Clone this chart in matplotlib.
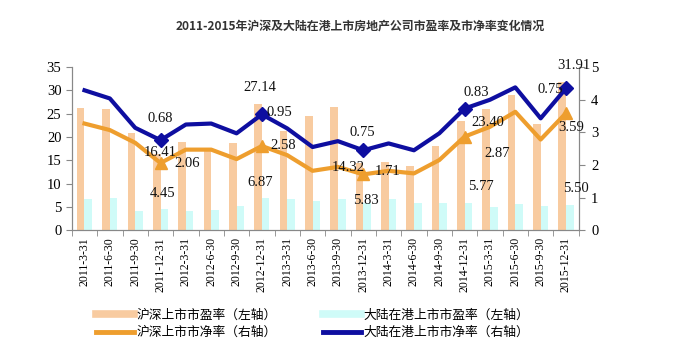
import numpy as np
import matplotlib.pyplot as plt
from matplotlib.lines import Line2D

plt.rcParams['font.family'] = ['Noto Sans CJK SC', 'DejaVu Sans']

# --- Dados ---
quarters = ["2011-3-31", "2011-6-30", "2011-9-30", "2011-12-31",
            "2012-3-31", "2012-6-30", "2012-9-30", "2012-12-31",
            "2013-3-31", "2013-6-30", "2013-9-30", "2013-12-31",
            "2014-3-31", "2014-6-30", "2014-9-30", "2014-12-31",
            "2015-3-31", "2015-6-30", "2015-9-30", "2015-12-31"]
pe_sh = [26.2, 26.0, 20.8, 16.41, 18.9, 17.0, 18.7, 27.14,
         21.2, 24.5, 26.4, 14.32, 14.6, 13.7, 18.0, 23.40,
         26.1, 29.1, 22.7, 31.91]
pe_hk = [6.6, 6.8, 4.2, 4.45, 4.1, 4.3, 5.2, 6.87,
         6.7, 6.2, 6.6, 5.83, 6.6, 5.9, 5.8, 5.77,
         5.0, 5.6, 5.1, 5.50]
pb_sh = [3.27, 3.07, 2.68, 2.06, 2.47, 2.47, 2.18, 2.58,
         2.30, 1.82, 1.94, 1.71, 1.82, 1.74, 2.15, 2.87,
         3.17, 3.63, 2.78, 3.59]
pb_hk = [4.29, 4.04, 3.14, 2.76, 3.24, 3.27, 2.97, 3.55,
         3.12, 2.55, 2.73, 2.45, 2.66, 2.45, 2.97, 3.73,
         4.00, 4.38, 3.43, 4.35]
year_end = [3, 7, 11, 15, 19]

# rótulos (texto, x, y no eixo esquerdo)
labels = [("0.68", 3.0, 24.0), ("16.41", 3.0, 16.7), ("2.06", 4.05, 14.4), ("4.45", 3.1, 7.9),
          ("27.14", 6.9, 30.7), ("0.95", 7.7, 25.3), ("2.58", 7.85, 18.2), ("6.87", 6.95, 10.3),
          ("14.32", 10.4, 13.5), ("0.75", 10.95, 21.0), ("1.71", 11.95, 12.7), ("5.83", 11.1, 6.3),
          ("0.83", 15.45, 29.6), ("23.40", 15.9, 23.2), ("2.87", 16.3, 16.5), ("5.77", 15.65, 9.4),
          ("31.91", 19.3, 35.3), ("0.75", 18.4, 30.3), ("3.59", 19.2, 22.1), ("5.50", 19.4, 9.0)]

c_pe_sh = "#F8CBA0"
c_pe_hk = "#CFFBF8"
c_pb_sh = "#EE9E2E"
c_pb_hk = "#0E0EA0"
serif = "Liberation Serif"

x = np.arange(len(quarters))
fig = plt.figure(figsize=(6.84, 3.63), dpi=100)
ax = fig.add_axes([0.105, 0.366, 0.741, 0.449])
ax2 = ax.twinx()

ax.bar(x - 0.15, pe_sh, width=0.3, color=c_pe_sh, zorder=1)
ax.bar(x + 0.15, pe_hk, width=0.3, color=c_pe_hk, zorder=1)

ax2.plot(x, pb_sh, color=c_pb_sh, lw=3, zorder=3)
ax2.plot(x[year_end], np.array(pb_sh)[year_end], '^', color=c_pb_sh, ms=9, zorder=3)
ax2.plot(x, pb_hk, color=c_pb_hk, lw=3, zorder=4)
ax2.plot(x[year_end], np.array(pb_hk)[year_end], 'D', color=c_pb_hk, ms=7, zorder=4)

for txt, tx, ty in labels:
    ax2.text(tx, ty / 7.0, txt, ha='center', va='center', fontsize=10.5,
             family=serif, color='#111111', zorder=5)

ax.set_xlim(-0.5, len(quarters) - 0.5)
ax.set_ylim(0, 35)
ax2.set_ylim(0, 5)
ax.set_yticks(np.arange(0, 36, 5))
ax2.set_yticks(np.arange(0, 6, 1))
ax.set_xticks(x)
ax.set_xticklabels(quarters, rotation=90, fontsize=8.5, family=serif)
ax.set_xticks(np.arange(-0.5, len(quarters)), minor=True)
ax.tick_params(axis='x', which='major', length=0, pad=5)
ax.tick_params(axis='x', which='minor', length=4, color='#888888')
ax.tick_params(axis='y', length=4, color='#888888', labelsize=10.5)
ax2.tick_params(axis='y', length=4, color='#888888', labelsize=10.5, pad=5)
for lab in ax.get_yticklabels() + ax2.get_yticklabels():
    lab.set_family(serif)

for a in (ax, ax2):
    a.spines['top'].set_visible(False)
    for s in ('left', 'right', 'bottom'):
        a.spines[s].set_color('#888888')

fig.text(0.526, 0.928, "2011-2015年沪深及大陆在港上市房地产公司市盈率及市净率变化情况",
         ha='center', va='center', fontsize=8.6, fontweight='bold', color='#333333')

handles = [Line2D([], [], color=c_pe_sh, lw=5.5), Line2D([], [], color=c_pb_sh, lw=3.5),
           Line2D([], [], color=c_pe_hk, lw=5.5), Line2D([], [], color=c_pb_hk, lw=3.5)]
names = ["沪深上市市盈率（左轴）", "沪深上市市净率（右轴）",
         "大陆在港上市市盈率（左轴）", "大陆在港上市市净率（右轴）"]
fig.legend(handles, names, ncol=2, loc='center', bbox_to_anchor=(0.457, 0.108),
           frameon=False, fontsize=9.2, handlelength=3.0, handletextpad=0.2,
           columnspacing=3.6, labelspacing=0.35)

plt.savefig("out.png", dpi=100)
